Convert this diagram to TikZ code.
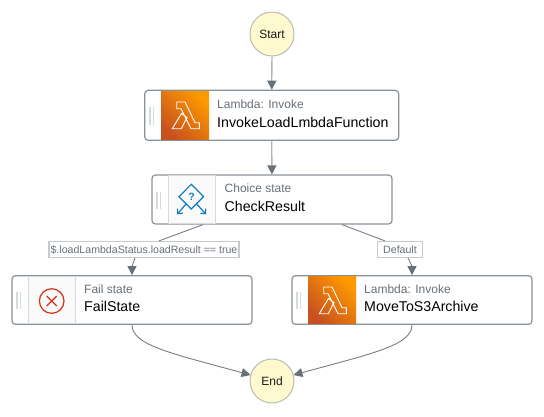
\documentclass[tikz,border=0pt]{standalone}
\usepackage{fontspec}
\setmainfont{Liberation Sans}
\usetikzlibrary{arrows.meta}
\definecolor{edgecol}{HTML}{687078}
\definecolor{edgelight}{HTML}{AAB7B8}
\definecolor{boxline}{HTML}{8A9299}
\definecolor{tilegrey}{HTML}{FAFAFA}
\definecolor{tileline}{HTML}{D5DBDB}
\definecolor{subcol}{HTML}{687078}
\definecolor{circfill}{HTML}{FFF9CF}
\definecolor{circline}{HTML}{B9BDB5}
\definecolor{blueicon}{HTML}{0F7CBF}
\definecolor{redicon}{HTML}{D13212}
\definecolor{orangea}{HTML}{C7511F}
\definecolor{orangeb}{HTML}{FF9900}
\tikzset{
  x=1pt,y=-1pt,
  term/.style={circle,draw=circline,fill=circfill,line width=1pt,minimum size=44pt,inner sep=0pt,font=\fontsize{12}{14}\selectfont,text=black!90},
  statebox/.style={draw=boxline,line width=1.2pt,rounded corners=3.5pt,fill=white,inner sep=0pt},
  flow/.style={draw=edgelight,line width=1.3pt,-{Triangle[length=9pt,width=9pt,color=edgecol]},shorten >=0pt},
  thin flow/.style={draw=edgecol!90,line width=.9pt,-{Triangle[length=9pt,width=9pt,color=edgecol]}},
  thin seg/.style={draw=edgecol!90,line width=.9pt},
  edgelabel/.style={draw=tileline!85!edgecol,line width=1.2pt,fill=white,inner sep=0pt,text=subcol,font=\fontsize{10.6}{11}\selectfont,minimum height=16pt},
  subtitle/.style={anchor=base west,inner sep=0pt,text=subcol,font=\fontsize{12}{14}\selectfont},
  maintitle/.style={anchor=base west,inner sep=0pt,text=black,font=\fontsize{14.2}{16}\selectfont},
  handle/.style={draw=tileline,line width=1.4pt},
  tile/.style={fill=tilegrey,draw=tileline,line width=.8pt},
  lambdaicon/.style={draw=white,line width=.9pt,line join=miter,fill=none},
  chevron/.style={blueicon,line width=1.2pt,-{Straight Barb[length=3.5pt,width=7pt]}},
}
\newcommand{\lambdaglyph}[2]{%
  \draw[lambdaicon,shift={(#1,#2)}] (-8.3,-13) -- (0,-13) -- (10,7.7) -- (14.3,7.7) -- (14.3,13.7) -- (6,13.7) -- (-4,-6.3) -- (-8.3,-6.3) -- cycle
   (-3.5,-1.5) -- (-12.7,13.7) -- (-3.7,13.7) -- (2,2.5) -- cycle;
}
\begin{document}
\begin{tikzpicture}
\useasboundingbox (0,0) rectangle (544,416);
% terminals
\node[term] (start) at (272,34) {Start};
\node[term] (end) at (272,381) {End};
% state boxes
\node[statebox,minimum width=254pt,minimum height=50pt] (load) at (271.7,115.3) {};
\node[statebox,minimum width=240pt,minimum height=49pt] (check) at (272,199.5) {};
\node[statebox,minimum width=240pt,minimum height=48.6pt] (fail) at (132,300) {};
\node[statebox,minimum width=240pt,minimum height=48.6pt] (move) at (412,300) {};
% tiles
\shade[bottom color=orangea,top color=orangeb,shading angle=-45] (161,91) rectangle (209,139.6);
\lambdaglyph{185}{115}
\shade[bottom color=orangea,top color=orangeb,shading angle=-45] (308,276.3) rectangle (356,323.7);
\lambdaglyph{332}{300}
\fill[tile] (168.3,175.6) rectangle (215.7,223.4);
\fill[tile] (28,276.3) rectangle (75.7,323.7);
\draw[tile,fill=none] (168.3,175.6) -- (168.3,223.4) (215.7,175.6) -- (215.7,223.4);
\draw[tile,fill=none] (28,276.3) -- (28,323.7) (75.7,276.3) -- (75.7,323.7);
% choice icon
\draw[blueicon,line width=1.2pt,line join=miter] (191.3,184.3) -- (203.6,196.7) -- (191.3,209) -- (179,196.7) -- cycle;
\draw[chevron] (186,204) -- (177.3,214.3);
\draw[chevron] (196.7,204) -- (206,214.3);
\node[inner sep=0pt,text=blueicon,font=\fontsize{10.5}{12}\bfseries\selectfont] (qm) at (191.5,196.5) {?};
% fail icon
\draw[redicon,line width=1.2pt] (51.7,301) circle (12.3);
\draw[redicon,line width=1.2pt] (46.7,296) -- (56.7,306) (46.7,306) -- (56.7,296);
% handles
\draw[handle] (150,107.3) -- (150,124.7) (153.5,107.3) -- (153.5,124.7);
\draw[handle] (157,191.5) -- (157,208.5) (160.5,191.5) -- (160.5,208.5);
\draw[handle] (17,291.5) -- (17,309) (20.5,291.5) -- (20.5,309);
\draw[handle] (297,291.5) -- (297,309) (300.5,291.5) -- (300.5,309);
% texts
\node[subtitle] (t1a) at (217,108) {Lambda: Invoke};
\node[maintitle] (t1b) at (217,127) {InvokeLoadLmbdaFunction};
\node[subtitle] (t2a) at (224.5,192) {Choice state};
\node[maintitle] (t2b) at (224.5,211) {CheckResult};
\node[subtitle] (t3a) at (84,293) {Fail state};
\node[maintitle] (t3b) at (84,311.5) {FailState};
\node[subtitle] (t4a) at (364,293) {Lambda: Invoke};
\node[maintitle] (t4b) at (364,311.5) {MoveToS3Archive};
% edge labels
\node[edgelabel,minimum width=190pt] (labt) at (144,249.5) {\$.loadLambdaStatus.loadResult == true};
\node[edgelabel,minimum width=45pt] (labd) at (400,249.5) {Default};
% connector anchors
\coordinate (ca) at ([xshift=-69pt]check.south);
\coordinate (cb) at ([xshift=70pt]check.south);
\coordinate (la) at ([xshift=15pt]labt.north);
\coordinate (lb) at ([xshift=-15pt]labd.north);
\coordinate (lc) at ([xshift=-9pt]labt.south);
\coordinate (ld) at ([xshift=8pt]labd.south);
\coordinate (ea) at (250.5,375);
\coordinate (eb) at (293.5,375);
% connectors
\draw[flow] (start) -- (load);
\draw[flow] (load) -- (check);
\draw[thin seg] (ca) -- (la);
\draw[thin seg] (cb) -- (lb);
\draw[thin flow] (lc) .. controls (133.5,262) and (132,267) .. (fail.north);
\draw[thin flow] (ld) .. controls (410.5,262) and (412,267) .. (move.north);
\draw[thin flow] (fail.south) .. controls (132,345) and (170,353) .. (ea);
\draw[thin flow] (move.south) .. controls (412,345) and (374,353) .. (eb);
\end{tikzpicture}
\end{document}
